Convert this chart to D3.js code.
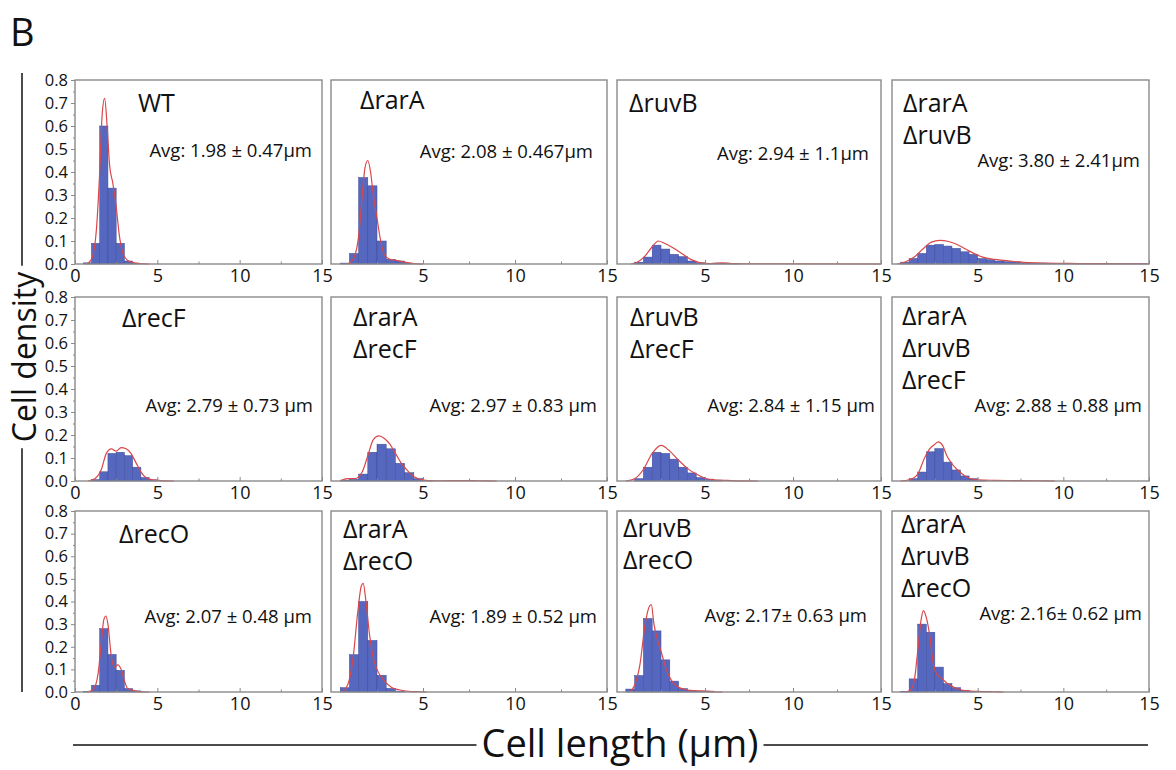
<!DOCTYPE html>
<html>
<head>
<meta charset="utf-8">
<script src="https://cdn.jsdelivr.net/npm/d3@7"></script>
<style>
  body { margin: 0; background: #fff; }
  text { font-family: "Open Sans", sans-serif; fill: #111; }
</style>
</head>
<body>
<svg id="fig" width="1176" height="770"></svg>
<script>
// strain labels per panel, row by row
const strains = [
  ["WT"], ["ΔrarA"], ["ΔruvB"], ["ΔrarA", "ΔruvB"],
  ["ΔrecF"], ["ΔrarA", "ΔrecF"], ["ΔruvB", "ΔrecF"], ["ΔrarA", "ΔruvB", "ΔrecF"],
  ["ΔrecO"], ["ΔrarA", "ΔrecO"], ["ΔruvB", "ΔrecO"], ["ΔrarA", "ΔruvB", "ΔrecO"]
];
const avgText = [
  "Avg: 1.98 ± 0.47μm", "Avg: 2.08 ± 0.467μm", "Avg: 2.94 ± 1.1μm", "Avg: 3.80 ± 2.41μm",
  "Avg: 2.79 ± 0.73 μm", "Avg: 2.97 ± 0.83 μm", "Avg: 2.84 ± 1.15 μm", "Avg: 2.88 ± 0.88 μm",
  "Avg: 2.07 ± 0.48 μm", "Avg: 1.89 ± 0.52 μm", "Avg: 2.17± 0.63 μm", "Avg: 2.16± 0.62 μm"
];

// histogram bins (width 0.5 µm), first bin start per panel and bar heights
const binWidth = 0.5;
const binStart = [0.5, 0.5, 1.0, 0.5, 1.0, 0.5, 1.0, 1.0, 0.5, 0.5, 0.5, 0.5];
const density = [
  [0.005, 0.09, 0.6, 0.33, 0.09, 0.013, 0.003],
  [0.004, 0.046, 0.376, 0.34, 0.10, 0.02, 0.013, 0.003],
  [0.008, 0.03, 0.082, 0.065, 0.042, 0.032, 0.013, 0.005, 0.002, 0.003, 0.003, 0.001],
  [0.008, 0.024, 0.046, 0.082, 0.085, 0.078, 0.068, 0.053, 0.042, 0.024, 0.019, 0.013, 0.010, 0.008, 0.005,
   0.004, 0.004, 0.003, 0.003, 0.002, 0.002, 0.001, 0.002, 0.001, 0.001, 0.001, 0.001, 0.001, 0.001],
  [0.006, 0.04, 0.12, 0.125, 0.11, 0.06, 0.015, 0.005],
  [0.004, 0.007, 0.03, 0.125, 0.16, 0.14, 0.077, 0.036, 0.01, 0.002],
  [0.01, 0.06, 0.125, 0.12, 0.095, 0.06, 0.035, 0.015, 0.008, 0.004],
  [0.01, 0.039, 0.127, 0.141, 0.082, 0.048, 0.022, 0.01, 0.003],
  [0.003, 0.03, 0.28, 0.166, 0.096, 0.015, 0.005],
  [0.019, 0.165, 0.40, 0.228, 0.074, 0.016, 0.004],
  [0.013, 0.073, 0.325, 0.27, 0.142, 0.048, 0.015, 0.007, 0.004, 0.004],
  [0.003, 0.058, 0.30, 0.264, 0.11, 0.037, 0.019, 0.007, 0.003]
];

// fitted density curves, [length, density]
const fitCurve = [
  [[0.7, 0], [1.0, 0.02], [1.3, 0.15], [1.5, 0.4], [1.65, 0.65], [1.8, 0.72], [1.95, 0.6], [2.1, 0.43], [2.3, 0.35],
   [2.5, 0.25], [2.7, 0.12], [2.9, 0.05], [3.2, 0.015], [3.6, 0.005], [4.5, 0]],
  [[0.9, 0], [1.2, 0.02], [1.5, 0.12], [1.7, 0.3], [1.85, 0.42], [2.0, 0.45], [2.15, 0.4], [2.3, 0.3], [2.5, 0.2],
   [2.7, 0.1], [2.9, 0.04], [3.2, 0.02], [3.6, 0.015], [4.0, 0.008], [4.5, 0.002], [5.0, 0]],
  [[0.8, 0], [1.2, 0.01], [1.6, 0.035], [2.0, 0.075], [2.35, 0.1], [2.7, 0.09], [3.2, 0.07], [3.7, 0.045], [4.2, 0.02],
   [4.7, 0.006], [5.3, 0.002], [6.0, 0.005], [6.5, 0.002], [7.5, 0.001], [9.0, 0.001], [15, 0]],
  [[0.3, 0], [0.8, 0.01], [1.3, 0.03], [1.8, 0.065], [2.3, 0.095], [2.8, 0.103], [3.3, 0.098], [3.8, 0.085], [4.3, 0.065],
   [4.8, 0.045], [5.3, 0.03], [6.0, 0.02], [7.0, 0.012], [8.0, 0.006], [9.0, 0.004], [10.0, 0.003], [11.0, 0.002],
   [12.0, 0.002], [13.0, 0.001], [15.0, 0.001]],
  [[0.8, 0], [1.2, 0.01], [1.6, 0.05], [1.9, 0.12], [2.2, 0.14], [2.5, 0.13], [2.8, 0.145], [3.1, 0.14], [3.4, 0.12],
   [3.7, 0.08], [4.0, 0.04], [4.3, 0.015], [4.7, 0.005], [5.2, 0.002], [6.0, 0]],
  [[0.5, 0], [0.9, 0.01], [1.3, 0.01], [1.7, 0.04], [2.0, 0.11], [2.3, 0.18], [2.6, 0.196], [2.9, 0.185], [3.2, 0.16],
   [3.5, 0.12], [3.8, 0.08], [4.1, 0.05], [4.4, 0.025], [4.8, 0.008], [5.3, 0.002], [6.0, 0.001], [7.0, 0.002],
   [8.0, 0.001], [9.0, 0]],
  [[0.5, 0], [1.0, 0.01], [1.5, 0.05], [2.0, 0.12], [2.5, 0.155], [3.0, 0.13], [3.5, 0.09], [4.0, 0.055], [4.5, 0.03],
   [5.0, 0.012], [5.5, 0.005], [6.5, 0.002], [8.0, 0]],
  [[0.5, 0], [1.0, 0.005], [1.5, 0.03], [1.9, 0.1], [2.2, 0.14], [2.5, 0.16], [2.7, 0.17], [2.95, 0.155], [3.2, 0.11],
   [3.5, 0.075], [3.8, 0.05], [4.1, 0.03], [4.5, 0.012], [5.0, 0.005], [6.0, 0.003], [7.0, 0.002], [8.5, 0.001], [9.5, 0]],
  [[0.7, 0], [1.1, 0.01], [1.4, 0.08], [1.6, 0.22], [1.75, 0.32], [1.88, 0.336], [2.0, 0.3], [2.2, 0.16], [2.4, 0.11],
   [2.6, 0.12], [2.8, 0.1], [3.0, 0.05], [3.2, 0.015], [3.5, 0.008], [3.8, 0.003], [4.5, 0]],
  [[0.6, 0], [0.9, 0.03], [1.2, 0.15], [1.45, 0.35], [1.65, 0.47], [1.75, 0.48], [1.9, 0.4], [2.1, 0.25], [2.3, 0.15],
   [2.5, 0.1], [2.7, 0.07], [3.0, 0.04], [3.3, 0.02], [3.7, 0.01], [4.2, 0.003], [4.9, 0.001], [5.2, 0]],
  [[0.7, 0], [1.0, 0.03], [1.3, 0.12], [1.6, 0.3], [1.85, 0.38], [1.95, 0.386], [2.1, 0.3], [2.3, 0.23], [2.5, 0.18],
   [2.8, 0.1], [3.1, 0.05], [3.4, 0.025], [3.8, 0.012], [4.3, 0.006], [5.0, 0.004], [5.5, 0.001], [6.0, 0]],
  [[0.8, 0], [1.1, 0.01], [1.3, 0.05], [1.5, 0.18], [1.7, 0.32], [1.83, 0.36], [2.0, 0.33], [2.2, 0.25], [2.4, 0.13],
   [2.6, 0.08], [2.9, 0.06], [3.2, 0.04], [3.5, 0.025], [3.9, 0.012], [4.4, 0.005], [5.0, 0.003], [6.0, 0.001], [6.5, 0]]
];

const xTicks = [0, 5, 10, 15];
const xMinor = [2.5, 7.5, 12.5];
const yTicks = [0, 0.1, 0.2, 0.3, 0.4, 0.5, 0.6, 0.7, 0.8];
const yMinor = [0.05, 0.15, 0.25, 0.35, 0.45, 0.55, 0.65, 0.75];

// layout
const colX = [[75, 322], [331, 607], [617, 881], [892, 1149]];
const rowY = [[80, 264], [297, 481], [511, 692]];
const nameAt = [[138, 112], [360, 109], [629, 112], [903, 112],
                [122, 327], [353, 326], [630, 326], [902, 325],
                [119, 543], [343, 538], [623, 537], [901, 533]];
const avgAt = [[312, 157], [593, 158], [869, 160], [1140, 167],
               [313, 412], [597, 412], [875, 412], [1142, 412],
               [312, 623], [597, 623], [867, 622], [1142, 620]];

const svg = d3.select("#fig");
const frameColor = "#8a8a8a";

strains.forEach((names, i) => {
  const r = Math.floor(i / 4), c = i % 4;
  const x = d3.scaleLinear().domain([0, 15]).range(colX[c]);
  const y = d3.scaleLinear().domain([0, 0.8]).range([rowY[r][1], rowY[r][0]]);
  const g = svg.append("g");

  const bars = density[i].map((h, j) => ({ x0: binStart[i] + j * binWidth, h }));
  g.selectAll("rect.bar")
    .data(bars)
    .join("rect")
    .attr("class", "bar")
    .attr("x", (d) => x(d.x0))
    .attr("width", (d) => x(d.x0 + binWidth) - x(d.x0))
    .attr("y", (d) => y(d.h))
    .attr("height", (d) => y(0) - y(d.h))
    .attr("fill", "#5667bf")
    .attr("stroke", "#3d4a9a")
    .attr("stroke-width", 0.5);

  g.append("path")
    .datum(fitCurve[i])
    .attr("d", d3.line().x((d) => x(d[0])).y((d) => y(d[1])).curve(d3.curveMonotoneX))
    .attr("fill", "none")
    .attr("stroke", "#d9474a")
    .attr("stroke-width", 1.2);

  g.append("rect")
    .attr("x", colX[c][0])
    .attr("y", rowY[r][0])
    .attr("width", colX[c][1] - colX[c][0])
    .attr("height", rowY[r][1] - rowY[r][0])
    .attr("fill", "none")
    .attr("stroke", frameColor)
    .attr("stroke-width", 1.4);

  // x axis, major and minor ticks
  g.append("g")
    .attr("transform", `translate(0,${y(0)})`)
    .call(d3.axisBottom(x).tickValues(c === 0 ? xTicks : xTicks.slice(1)).tickSize(-4).tickPadding(5).tickFormat(d3.format("d")))
    .selectAll(".tick text").attr("font-size", 18);
  g.append("g")
    .attr("class", "minor")
    .attr("transform", `translate(0,${y(0)})`)
    .call(d3.axisBottom(x).tickValues(xMinor).tickSize(-2.5));

  if (c === 0) {
    g.append("g")
      .attr("transform", `translate(${colX[c][0]},0)`)
      .call(d3.axisLeft(y).tickValues(yTicks).tickSize(4).tickPadding(3).tickFormat(d3.format(".1f")))
      .selectAll(".tick text").attr("font-size", 16.5);
    g.append("g")
      .attr("class", "minor")
      .attr("transform", `translate(${colX[c][0]},0)`)
      .call(d3.axisLeft(y).tickValues(yMinor).tickSize(2));
  }

  g.selectAll(".minor text").remove();
  g.selectAll(".domain").remove();
  g.selectAll(".tick line").attr("stroke", frameColor);
  g.selectAll(".tick text").attr("font-family", "Open Sans, sans-serif").attr("fill", "#111");

  names.forEach((n, k) => {
    g.append("text")
      .attr("x", nameAt[i][0])
      .attr("y", nameAt[i][1] + k * 32)
      .attr("font-size", 25)
      .text(n);
  });

  g.append("text")
    .attr("x", avgAt[i][0])
    .attr("y", avgAt[i][1])
    .attr("text-anchor", "end")
    .attr("font-size", 18.5)
    .text(avgText[i]);
});

// panel letter
svg.append("text").attr("x", 10).attr("y", 46).attr("font-size", 38).text("B");

// y title with rule broken around it
const yTitle = svg.append("text")
  .attr("transform", "translate(36,357) rotate(-90)")
  .attr("text-anchor", "middle")
  .attr("font-size", 32)
  .text("Cell density");
const yLen = yTitle.node().getComputedTextLength();
svg.append("line").attr("x1", 22).attr("x2", 22).attr("y1", 73).attr("y2", 357 - yLen / 2 - 6).attr("stroke", "#111").attr("stroke-width", 1.5);
svg.append("line").attr("x1", 22).attr("x2", 22).attr("y1", 357 + yLen / 2 + 6).attr("y2", 692).attr("stroke", "#111").attr("stroke-width", 1.5);

// x title with rule broken around it
const xTitle = svg.append("text")
  .attr("x", 620)
  .attr("y", 757)
  .attr("text-anchor", "middle")
  .attr("font-size", 38)
  .text("Cell length (µm)");
const xLen = xTitle.node().getComputedTextLength();
svg.append("line").attr("x1", 73).attr("x2", 620 - xLen / 2 - 5).attr("y1", 745).attr("y2", 745).attr("stroke", "#111").attr("stroke-width", 1.5);
svg.append("line").attr("x1", 620 + xLen / 2 + 5).attr("x2", 1148).attr("y1", 745).attr("y2", 745).attr("stroke", "#111").attr("stroke-width", 1.5);
</script>
</body>
</html>
